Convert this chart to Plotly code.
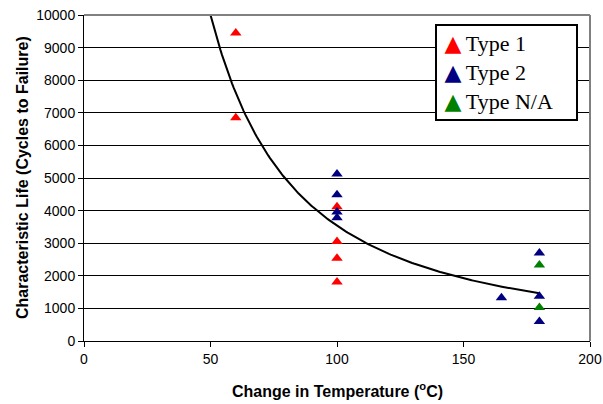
import numpy as np
import plotly.graph_objects as go

# Data
type1_x = [60, 60, 100, 100, 100, 100]
type1_y = [9450, 6850, 4120, 3050, 2540, 1810]
type2_x = [100, 100, 100, 100, 165, 180, 180, 180]
type2_y = [5120, 4490, 3960, 3780, 1330, 2700, 1370, 600]
typena_x = [180, 180]
typena_y = [2330, 1030]

# Power-law trendline y = a * x^b
trend_a = 3.536e6
trend_b = -1.5
trend_x_start, trend_x_end = 50, 180

x_ticks = [0, 50, 100, 150, 200]
y_ticks = list(range(0, 10001, 1000))

series = [
    ("Type 1", type1_x, type1_y, "#FF0000"),
    ("Type 2", type2_x, type2_y, "#000080"),
    ("Type N/A", typena_x, typena_y, "#008000"),
]

fig = go.Figure()

tx = np.linspace(trend_x_start, trend_x_end, 200)
ty = trend_a * tx ** trend_b
fig.add_trace(go.Scatter(x=tx, y=ty, mode="lines", line=dict(color="black", width=2),
                         showlegend=False, hoverinfo="skip"))

for name, xs, ys, col in series:
    fig.add_trace(go.Scatter(x=xs, y=ys, mode="markers", name=name, showlegend=False,
                             marker=dict(symbol="triangle-up", size=10, color=col)))

fig.update_layout(
    width=603, height=404,
    margin=dict(l=84, r=13, t=15, b=63, autoexpand=False),
    paper_bgcolor="white", plot_bgcolor="white",
    font=dict(family="Arial, Liberation Sans", size=14, color="black"),
    showlegend=False,
)

fig.update_xaxes(
    range=[0, 200], tickvals=x_ticks, ticktext=[str(v) for v in x_ticks],
    showgrid=False, zeroline=False, automargin=False,
    showline=True, linecolor="black", linewidth=1,
    ticks="outside", ticklen=5, tickcolor="black",
    tickfont=dict(size=14),
)
fig.update_yaxes(
    range=[0, 10000], tickvals=y_ticks, ticktext=[str(v) for v in y_ticks],
    showgrid=True, gridcolor="black", gridwidth=1, zeroline=False, automargin=False,
    showline=True, linecolor="black", linewidth=1,
    ticks="outside", ticklen=5, tickcolor="black",
    tickfont=dict(size=14),
)

fig.add_annotation(text="<b>Change in Temperature (<sup>o</sup>C)</b>",
                   xref="paper", yref="paper", x=0.5, y=0, xanchor="center",
                   yanchor="middle", yshift=-49, showarrow=False,
                   font=dict(size=16))
fig.add_annotation(text="<b>Characteristic Life (Cycles to Failure)</b>",
                   xref="paper", yref="paper", x=0, y=0.5, xanchor="center",
                   yanchor="middle", xshift=-62, textangle=-90, showarrow=False,
                   font=dict(size=16))

# Legend box (drawn as a bordered text box)
legend_text = "<br>".join(
    f"\u2009<span style='color:{col};font-family:DejaVu Sans;font-size:22px'>\u25B2</span>\u2009{name}"
    for name, _, _, col in series
)
fig.add_annotation(text=legend_text, xref="paper", yref="paper",
                   x=0.6937, y=0.9724, xanchor="left", yanchor="top",
                   align="left", valign="middle", showarrow=False,
                   width=133, height=87, borderpad=3,
                   bgcolor="white", bordercolor="black", borderwidth=2,
                   font=dict(family="Liberation Serif, Times New Roman", size=22,
                             color="black"))

# gray plot-area border on top and right
fig.add_shape(type="line", xref="paper", yref="paper", x0=0, x1=1, y0=1, y1=1,
              line=dict(color="#808080", width=2))
fig.add_shape(type="line", xref="paper", yref="paper", x0=1, x1=1, y0=0, y1=1,
              line=dict(color="#808080", width=2))

fig.write_html("out.html", config={"displayModeBar": False},
               post_script="document.body.style.margin='0';document.body.style.overflow='hidden';")
